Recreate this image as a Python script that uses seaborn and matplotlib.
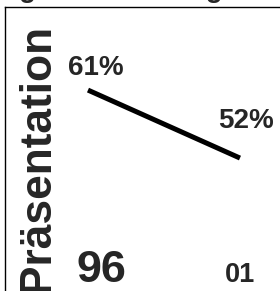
import pandas as pd
import numpy as np
import matplotlib.pyplot as plt
import seaborn as sns
from matplotlib.transforms import ScaledTranslation

# Werte
jahre = ["96", "01"]
anteile = [61, 52]
titel = "Umfragen am Montag"
y_titel = "Präsentation"

df = pd.DataFrame({"pos": range(len(jahre)), "anteil": anteile})

sns.set_style("white")
plt.rcParams['font.family'] = ['Liberation Sans', 'DejaVu Sans']
plt.rcParams['font.weight'] = 'bold'

fig = plt.figure(figsize=(2.8, 2.91), dpi=100)
ax = fig.add_axes([5 / 280, 0, 295 / 280, 284 / 291])

sns.lineplot(data=df, x="pos", y="anteil", ax=ax, color="black",
             linewidth=3.6, solid_capstyle="butt")

ax.set_xlim(-0.546, 1.395)
ax.set_ylim(34.4, 72)

# Prozent-Beschriftungen
versatz = [(5.8, 10.8), (4.3, 21.6)]
for i, (x, y) in enumerate(zip(df["pos"], df["anteil"])):
    ax.annotate(f"{y}%", (x, y), xytext=versatz[i], textcoords="offset points",
                ha="center", va="baseline", fontsize=20, fontweight="bold")

# x-Achse: Jahre
ax.set_xticks(list(df["pos"]), jahre)
ax.tick_params(axis="x", length=0, pad=-6.5)
groessen = [32.4, 19.5]
for lab, g in zip(ax.get_xticklabels(), groessen):
    lab.set_fontsize(g)
    lab.set_fontweight("bold")
    lab.set_va("baseline")
lab0 = ax.get_xticklabels()[0]
lab0.set_transform(lab0.get_transform() + ScaledTranslation(13 / 100, 0, fig.dpi_scale_trans))

ax.set_yticks([])
ax.set_xlabel("")
ax.set_ylabel(y_titel, fontsize=31.9, fontweight="bold")
ax.yaxis.label.set_va("baseline")
ax.yaxis.set_label_coords(44.5 / 295, 133 / 284)

for s in ["right", "bottom"]:
    ax.spines[s].set_visible(False)
for s in ["left", "top"]:
    ax.spines[s].set_color("black")
    ax.spines[s].set_linewidth(1)

fig.text(-61 / 280, 1 + 3 / 291, titel, ha="left", va="baseline",
         fontsize=20, fontweight="bold")

fig.savefig("out.png", dpi=100)
